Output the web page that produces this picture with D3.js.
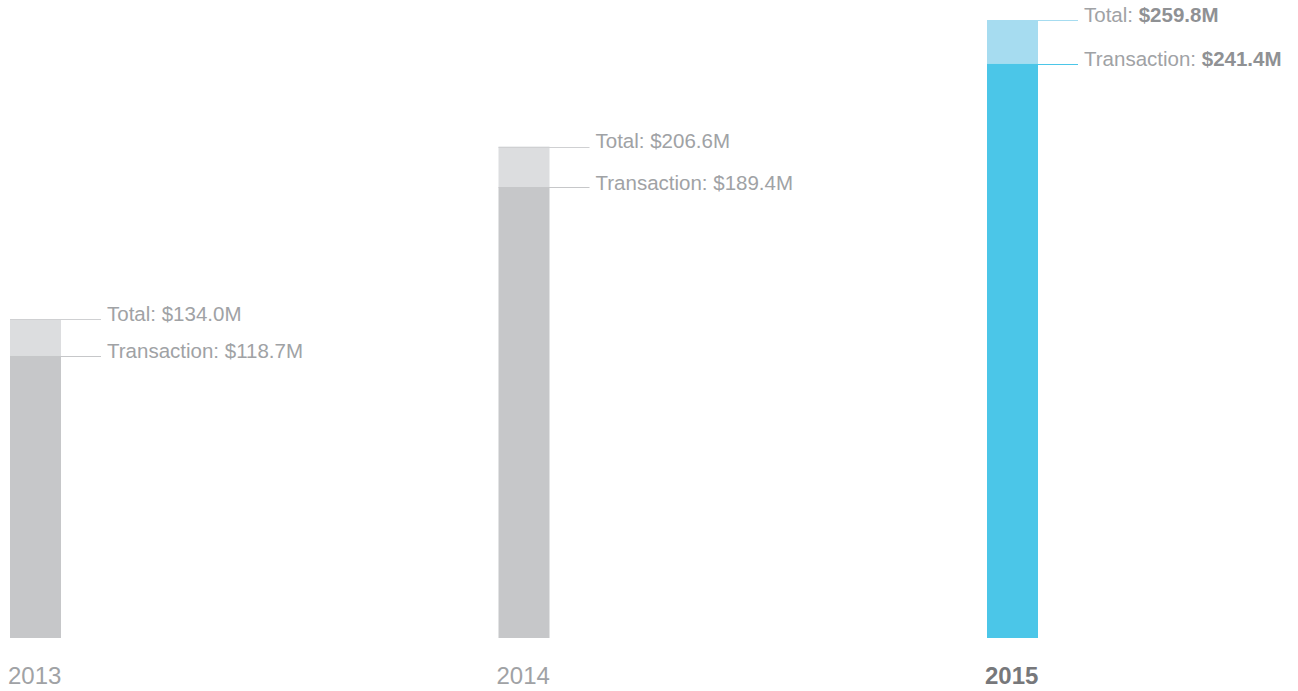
<!DOCTYPE html>
<html>
<head>
<meta charset="utf-8">
<script src="https://cdn.jsdelivr.net/npm/d3@7"></script>
<style>
  html, body { margin: 0; padding: 0; background: #fff; }
  svg { display: block; }
  text { font-family: "Liberation Sans", Arial, Helvetica, sans-serif; }
</style>
</head>
<body>
<svg id="chart" width="1298" height="691"></svg>
<script>
const years = ["2013", "2014", "2015"];
const totals = [134.0, 206.6, 259.8];
const transactions = [118.7, 189.4, 241.4];
const highlightYear = "2015";

const svg = d3.select("#chart");

const data = years.map((y, i) => ({ year: y, total: totals[i], transaction: transactions[i] }));

const x = d3.scalePoint().domain(years).range([10, 987]);
const y = d3.scaleLinear().domain([0, d3.max(totals)]).range([638, 20]);
const barW = 51;
const lineLen = 91;
const labelOff = 97;

const colors = {
  normal: { light: "#dcdddf", dark: "#c6c7c9", lineTotal: "#cfd0d2", lineTrans: "#c6c7c9" },
  highlight: { light: "#a6dcf0", dark: "#4bc6e8", lineTotal: "#a6dcf0", lineTrans: "#4bc6e8" }
};
const fmt = v => "$" + d3.format(".1f")(v) + "M";

const g = svg.selectAll("g.year").data(data).join("g").attr("class", "year");

g.each(function(d) {
  const sel = d3.select(this);
  const c = d.year === highlightYear ? colors.highlight : colors.normal;
  const hl = d.year === highlightYear;
  const x0 = x(d.year);

  sel.append("rect")
    .attr("x", x0).attr("width", barW)
    .attr("y", y(d.total)).attr("height", y(d.transaction) - y(d.total))
    .attr("fill", c.light);
  sel.append("rect")
    .attr("x", x0).attr("width", barW)
    .attr("y", y(d.transaction)).attr("height", y(0) - y(d.transaction))
    .attr("fill", c.dark);

  sel.append("line")
    .attr("x1", x0).attr("x2", x0 + lineLen)
    .attr("y1", Math.round(y(d.total)) + 0.5).attr("y2", Math.round(y(d.total)) + 0.5)
    .attr("stroke", c.lineTotal).attr("stroke-width", 1);
  sel.append("line")
    .attr("x1", x0).attr("x2", x0 + lineLen)
    .attr("y1", Math.round(y(d.transaction)) + 0.5).attr("y2", Math.round(y(d.transaction)) + 0.5)
    .attr("stroke", c.lineTrans).attr("stroke-width", 1);

  const t1 = sel.append("text")
    .attr("x", x0 + labelOff).attr("y", y(d.total) + 1.5)
    .attr("font-size", 20.5).attr("fill", "#a0a2a5");
  t1.append("tspan").text("Total: ");
  t1.append("tspan").text(fmt(d.total))
    .attr("font-weight", hl ? "bold" : "normal")
    .attr("fill", hl ? "#8f9194" : "#a0a2a5");

  const t2 = sel.append("text")
    .attr("x", x0 + labelOff).attr("y", y(d.transaction) + 2.5)
    .attr("font-size", 20.5).attr("fill", "#a0a2a5");
  t2.append("tspan").text("Transaction: ");
  t2.append("tspan").text(fmt(d.transaction))
    .attr("font-weight", hl ? "bold" : "normal")
    .attr("fill", hl ? "#8f9194" : "#a0a2a5");

  sel.append("text")
    .attr("x", x0 - 2).attr("y", 684)
    .attr("font-size", 24)
    .attr("font-weight", hl ? "bold" : "normal")
    .attr("fill", hl ? "#77787b" : "#a0a2a5")
    .text(d.year);
});
</script>
</body>
</html>
